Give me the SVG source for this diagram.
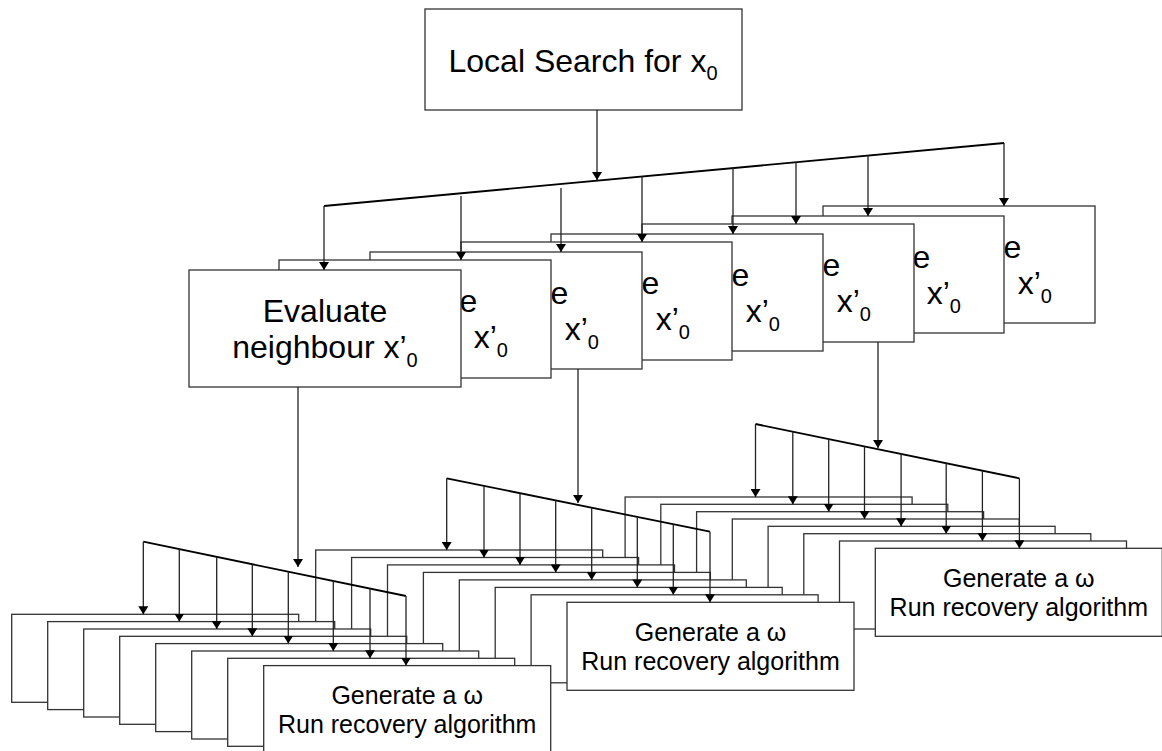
<svg xmlns="http://www.w3.org/2000/svg" width="1162" height="751" viewBox="0 0 1162 751">
<style>
.box{fill:#fff;stroke:#333;stroke-width:1.3}
.fan{fill:none;stroke:#000;stroke-width:1.8}
.drop{fill:none;stroke:#222;stroke-width:1.3;marker-end:url(#ah)}
.t{font-family:"Liberation Sans",Arial,sans-serif;font-size:32px;text-anchor:middle;fill:#000}
.e{font-family:"Liberation Sans",Arial,sans-serif;font-size:32px;text-anchor:end;fill:#000}
.x{font-family:"Liberation Sans",Arial,sans-serif;font-size:32px;text-anchor:start;fill:#000}
.s{font-family:"Liberation Sans",Arial,sans-serif;font-size:25px;text-anchor:middle;fill:#000}
.sub{font-size:20px}
</style>
<defs>
<marker id="ah" viewBox="0 0 8 10" refX="8" refY="5" markerWidth="8" markerHeight="10" markerUnits="userSpaceOnUse" orient="auto">
<path d="M0,0 L8,5 L0,10 z" fill="#000"/>
</marker>
</defs>
<rect width="1162" height="751" fill="#fff"/>

<g id="top">
<rect class="box" x="425" y="9" width="317" height="101"/>
<text class="t" x="583" y="72">Local Search for x<tspan class="sub" dy="8">0</tspan></text>
</g>

<g id="eval7"><rect class="box" x="823" y="206" width="272" height="117"/><text class="e" x="1021.3" y="257.7">e</text><text class="x" x="1017.7" y="294">x’<tspan class="sub" dy="9">0</tspan></text></g>
<g id="eval6"><rect class="box" x="732" y="216" width="272" height="117"/><text class="e" x="930.3" y="267.7">e</text><text class="x" x="926.7" y="304">x’<tspan class="sub" dy="9">0</tspan></text></g>
<g id="eval5"><rect class="box" x="642" y="224" width="272" height="118"/><text class="e" x="840.3" y="275.7">e</text><text class="x" x="836.7" y="312">x’<tspan class="sub" dy="9">0</tspan></text></g>
<g id="eval4"><rect class="box" x="551" y="234" width="272" height="117"/><text class="e" x="749.3" y="285.7">e</text><text class="x" x="745.7" y="322">x’<tspan class="sub" dy="9">0</tspan></text></g>
<g id="eval3"><rect class="box" x="461" y="242" width="271" height="118"/><text class="e" x="659.3" y="293.7">e</text><text class="x" x="655.7" y="330">x’<tspan class="sub" dy="9">0</tspan></text></g>
<g id="eval2"><rect class="box" x="370" y="252" width="272" height="117"/><text class="e" x="568.3" y="303.7">e</text><text class="x" x="564.7" y="340">x’<tspan class="sub" dy="9">0</tspan></text></g>
<g id="eval1"><rect class="box" x="279" y="260" width="272" height="118"/><text class="e" x="477.3" y="311.7">e</text><text class="x" x="473.7" y="348">x’<tspan class="sub" dy="9">0</tspan></text></g>
<g id="eval0"><rect class="box" x="189" y="270" width="272" height="117"/><text class="t" x="325" y="321.7">Evaluate</text><text class="t" x="325" y="358">neighbour x’<tspan class="sub" dy="9">0</tspan></text></g>

<g id="g3b0"><rect class="box" x="625.1" y="497" width="287" height="88"/></g>
<g id="g3b1"><rect class="box" x="660.8" y="504.3" width="287" height="88"/></g>
<g id="g3b2"><rect class="box" x="696.6" y="511.7" width="287" height="88"/></g>
<g id="g3b3"><rect class="box" x="732.3" y="519" width="287" height="88"/></g>
<g id="g3b4"><rect class="box" x="768.1" y="526.3" width="287" height="88"/></g>
<g id="g3b5"><rect class="box" x="803.8" y="533.7" width="287" height="88"/></g>
<g id="g3b6"><rect class="box" x="839.5" y="541" width="287" height="88"/></g>
<g id="g3b7"><rect class="box" x="875.3" y="548.3" width="287" height="88"/><text class="s" x="1018.8" y="586.5">Generate a ω</text><text class="s" x="1018.8" y="616">Run recovery algorithm</text></g>

<g id="g2b0"><rect class="box" x="315.7" y="550" width="287" height="88"/></g>
<g id="g2b1"><rect class="box" x="351.6" y="557.5" width="287" height="88"/></g>
<g id="g2b2"><rect class="box" x="387.5" y="564.9" width="287" height="88"/></g>
<g id="g2b3"><rect class="box" x="423.4" y="572.4" width="287" height="88"/></g>
<g id="g2b4"><rect class="box" x="459.3" y="579.9" width="287" height="88"/></g>
<g id="g2b5"><rect class="box" x="495.2" y="587.4" width="287" height="88"/></g>
<g id="g2b6"><rect class="box" x="531.1" y="594.8" width="287" height="88"/></g>
<g id="g2b7"><rect class="box" x="567" y="602.3" width="287" height="88"/><text class="s" x="710.5" y="640.5">Generate a ω</text><text class="s" x="710.5" y="670">Run recovery algorithm</text></g>

<g id="g1b0"><rect class="box" x="11.7" y="614.3" width="287" height="88"/></g>
<g id="g1b1"><rect class="box" x="47.7" y="621.6" width="287" height="88"/></g>
<g id="g1b2"><rect class="box" x="83.7" y="629" width="287" height="88"/></g>
<g id="g1b3"><rect class="box" x="119.7" y="636.3" width="287" height="88"/></g>
<g id="g1b4"><rect class="box" x="155.7" y="643.6" width="287" height="88"/></g>
<g id="g1b5"><rect class="box" x="191.7" y="651" width="287" height="88"/></g>
<g id="g1b6"><rect class="box" x="227.7" y="658.3" width="287" height="88"/></g>
<g id="g1b7"><rect class="box" x="263.7" y="665.6" width="287" height="88"/><text class="s" x="407.2" y="704">Generate a ω</text><text class="s" x="407.2" y="733">Run recovery algorithm</text></g>

<g id="connectors">
<path class="drop" d="M597,110 V180"/>
<path class="fan" d="M324,206 L1004,143"/>
<path class="drop" d="M324,206 V270"/>
<path class="drop" d="M461,196 V260"/>
<path class="drop" d="M561,188 V252"/>
<path class="drop" d="M642,176.5 V242"/>
<path class="drop" d="M733,168 V234"/>
<path class="drop" d="M796,162.3 V224"/>
<path class="drop" d="M868,155.6 V216"/>
<path class="drop" d="M1004,143 V206"/>

<path class="drop" d="M298,387 V567"/>
<path class="drop" d="M578,369 V503"/>
<path class="drop" d="M878,342 V448"/>

<path class="fan" d="M143.3,541.7 L406,596"/>
<path class="drop" d="M143.3,541.7 V614.3"/>
<path class="drop" d="M179.3,549.1 V621.6"/>
<path class="drop" d="M216.7,556.9 V629"/>
<path class="drop" d="M252.3,564.2 V636.3"/>
<path class="drop" d="M288.3,571.7 V643.6"/>
<path class="drop" d="M333.3,581 V651"/>
<path class="drop" d="M370,588.6 V658.3"/>
<path class="drop" d="M406,596 V665.6"/>

<path class="fan" d="M446.7,478.3 L710,531.7"/>
<path class="drop" d="M446.7,478.3 V550"/>
<path class="drop" d="M484,485.9 V557.5"/>
<path class="drop" d="M520,493.2 V564.9"/>
<path class="drop" d="M555.7,500.4 V572.4"/>
<path class="drop" d="M591.7,507.7 V579.9"/>
<path class="drop" d="M637.3,517 V587.4"/>
<path class="drop" d="M673.3,524.3 V594.8"/>
<path class="drop" d="M710,531.7 V602.3"/>

<path class="fan" d="M755.5,424 L1019.4,478.3"/>
<path class="drop" d="M755.5,424 V497"/>
<path class="drop" d="M792.8,431.7 V504.3"/>
<path class="drop" d="M828.7,439.1 V511.7"/>
<path class="drop" d="M864.5,446.4 V519"/>
<path class="drop" d="M901.1,454 V526.3"/>
<path class="drop" d="M946.2,463.2 V533.7"/>
<path class="drop" d="M982.4,470.7 V541"/>
<path class="drop" d="M1019.4,478.3 V548.3"/>
</g>
</svg>
